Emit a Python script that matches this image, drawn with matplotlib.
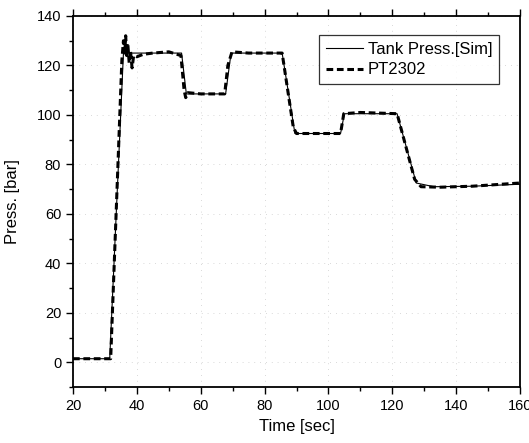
import numpy as np
import matplotlib.pyplot as plt

plt.rcParams['font.family'] = ['Liberation Sans', 'DejaVu Sans']

# simulated tank pressure
sim_t = [20, 31.5, 35.8, 54.0, 55.5, 67.8, 69.5, 85.5, 89.5, 103.8, 105.0, 121.5, 127.5, 133.0, 145.0, 160.0]
sim_p = [1.5, 1.5, 125.0, 125.0, 108.5, 108.5, 125.0, 125.0, 92.5, 92.5, 100.5, 100.5, 72.5, 71.0, 71.2, 72.0]

# measured PT2302
pt_t = [20, 31.8, 35.3, 35.8, 36.2, 36.5, 36.8, 37.2, 37.6, 38.0, 38.5, 39.0, 40.0, 42.0, 45.0, 50.0,
        53.8, 54.8, 55.3, 56.0, 60.0, 67.5, 68.5, 69.8, 75.0, 85.5, 89.0, 90.0, 100.0, 103.8,
        104.8, 110.0, 121.5, 127.0, 129.0, 135.0, 145.0, 160.0]
pt_p = [1.5, 1.5, 122.0, 130.0, 125.0, 132.0, 124.0, 128.0, 121.0, 126.0, 119.0, 124.0, 123.5, 124.5,
        125.0, 125.5, 124.0, 110.0, 107.0, 109.0, 108.5, 108.5, 120.0, 125.5, 125.0, 125.0, 95.0,
        92.5, 92.5, 92.5, 100.5, 101.0, 100.5, 74.0, 71.0, 70.8, 71.2, 72.5]

fig = plt.figure(figsize=(5.29, 4.43), dpi=100)
ax = fig.add_axes([0.138, 0.126, 0.845, 0.838])

ax.plot(sim_t, sim_p, color='black', lw=0.8, label='Tank Press.[Sim]')
ax.plot(pt_t, pt_p, color='black', lw=2.2, ls=(0, (2.2, 1.2)), label='PT2302')

ax.set_xlim(20, 160)
ax.set_ylim(-10, 140)
ax.set_xticks(np.arange(20, 161, 20))
ax.set_yticks(np.arange(0, 141, 20))
ax.set_xticks(np.arange(30, 160, 20), minor=True)
ax.set_yticks(np.arange(-10, 140, 20), minor=True)
ax.tick_params(which='both', direction='out', top=True, right=False, labelsize=10.5, width=1.0)
ax.tick_params(which='major', length=5)
ax.tick_params(which='minor', length=3)
for s in ax.spines.values():
    s.set_linewidth(1.3)

ax.grid(True, which='major', color='0.8', ls=(0, (1, 6)), lw=0.6)

ax.set_xlabel('Time [sec]', fontsize=12)
ax.set_ylabel('Press. [bar]', fontsize=12, labelpad=12)

leg = ax.legend(loc='upper right', bbox_to_anchor=(0.953, 0.949), fontsize=12, frameon=True,
                fancybox=False, edgecolor='black', handlelength=2.2, handletextpad=0.3,
                borderpad=0.4, labelspacing=0.35, borderaxespad=0)
leg.get_frame().set_linewidth(0.9)

fig.savefig('out.png', dpi=100)
